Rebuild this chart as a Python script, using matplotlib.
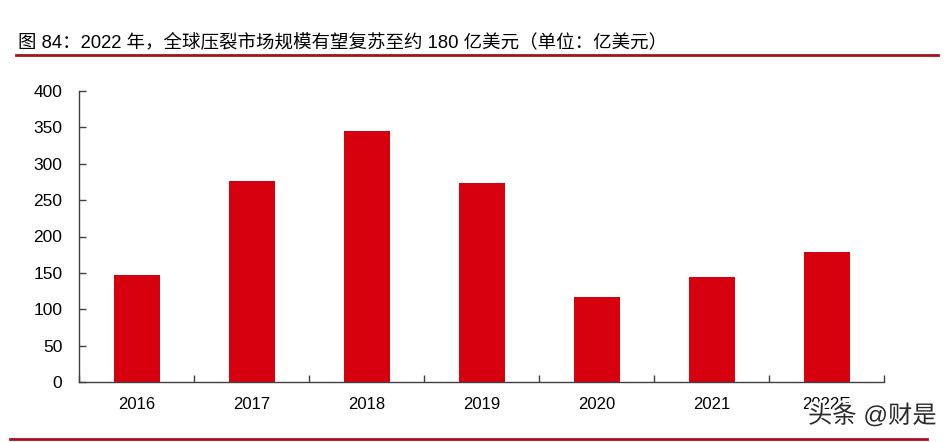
import matplotlib
matplotlib.use("Agg")
import matplotlib.pyplot as plt
from matplotlib.lines import Line2D
import matplotlib.patheffects as pe

plt.rcParams['font.family'] = ['Liberation Sans', 'Noto Sans CJK SC', 'DejaVu Sans']

categories = ['2016', '2017', '2018', '2019', '2020', '2021', '2022E']
values = [147, 276, 345, 274, 117, 145, 179]
yticks = [0, 50, 100, 150, 200, 250, 300, 350, 400]
title = '图 84：2022 年，全球压裂市场规模有望复苏至约 180 亿美元（单位：亿美元）'
watermark = '头条 @财是'

W, H = 948, 442
fig = plt.figure(figsize=(W / 100, H / 100), dpi=100)
ax = fig.add_axes([79 / W, 1 - 382 / H, 805 / W, 291 / H])

x = list(range(len(categories)))
ax.bar(x, values, width=0.4, color='#D7000F', zorder=2)

ax.set_xlim(-0.5, len(categories) - 0.5)
ax.set_ylim(0, 400)
ax.set_yticks(yticks)
ax.set_xticks(x)
ax.set_xticklabels(categories)
ax.set_xticks([i - 0.5 for i in range(len(categories) + 1)], minor=True)

for s in ['top', 'right']:
    ax.spines[s].set_visible(False)
for s in ['left', 'bottom']:
    ax.spines[s].set_color('#404040')
    ax.spines[s].set_linewidth(1.0)

ax.tick_params(axis='x', which='major', length=0, pad=11, labelsize=12, colors='black')
ax.tick_params(axis='x', which='minor', direction='in', length=5, width=1, color='#404040')
ax.tick_params(axis='y', direction='in', length=5, width=1, color='#404040', pad=12, labelsize=12.5)

fig.text(18 / W, 1 - 42 / H, title, fontsize=13.3, va='center', ha='left', color='black')
fig.add_artist(Line2D([16 / W, 938 / W], [1 - 55 / H, 1 - 55 / H], color='#A8101A', lw=2))
fig.add_artist(Line2D([10 / W, 927 / W], [1 - 439 / H, 1 - 439 / H], color='#A8101A', lw=2))

fig.text(808 / W, 1 - 416 / H, watermark, fontsize=17.5, va='center', ha='left', color='#2a2a2a',
         path_effects=[pe.withStroke(linewidth=3, foreground='white')])

fig.savefig('out.png', dpi=100)
